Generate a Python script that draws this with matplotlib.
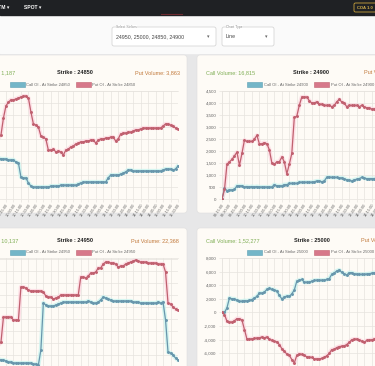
import numpy as np
import pandas as pd
import matplotlib
matplotlib.use('Agg')
import matplotlib.pyplot as plt
from matplotlib.patches import Rectangle, FancyBboxPatch
from matplotlib.ticker import FuncFormatter, MultipleLocator

plt.rcParams['font.family'] = ['Liberation Sans', 'DejaVu Sans']

W, H = 375, 366

# x axis categories (5 minute snapshots)
times = list(pd.date_range('2024-01-01 09:15', periods=76, freq='5min').strftime('%H:%M:%S'))

# strike 24850 (top left)
tl_call = [1710, 1710, 1710, 1710, 1670, 1670, 1670, 1630, 1630, 1630,
           1540, 1500, 920, 880, 880, 670, 540, 500, 500, 500,
           500, 500, 500, 500, 540, 540, 540, 540, 580, 580,
           580, 580, 580, 580, 580, 630, 670, 710, 710, 710,
           710, 710, 710, 710, 710, 710, 710, 880, 1000, 1000,
           1000, 1000, 1040, 1080, 1130, 1210, 1210, 1170, 1170, 1170,
           1170, 1170, 1170, 1170, 1170, 1170, 1170, 1170, 1170, 1210,
           1250, 1250, 1250, 1210, 1250, 1380]
tl_put = [2040, 2250, 2460, 2540, 2670, 3380, 3880, 4040, 4130, 4130,
          4170, 4210, 4250, 4290, 4290, 4210, 3630, 3130, 3080, 3000,
          2630, 2580, 2500, 2040, 2040, 2080, 1960, 2000, 1960, 1830,
          2040, 2080, 2170, 2210, 2290, 2330, 2380, 2380, 2420, 2420,
          2460, 2460, 2330, 2460, 2500, 2500, 2540, 2540, 2580, 2580,
          2420, 2500, 2710, 2750, 2750, 2790, 2790, 2830, 2880, 2880,
          2920, 2960, 2960, 2960, 2960, 2960, 2960, 2960, 2960, 3040,
          3130, 3130, 3080, 3040, 2960, 2920]

# strike 24900 (top right)
tr_call = [0, 450, 350, 380, 380, 400, 550, 550, 550, 500,
           520, 500, 520, 500, 520, 500, 500, 500, 500, 500,
           500, 600, 550, 550, 550, 600, 600, 650, 650, 650,
           650, 700, 700, 700, 700, 700, 700, 720, 750, 750,
           720, 750, 900, 920, 900, 900, 900, 880, 880, 850,
           800, 780, 750, 800, 820, 850, 900, 870, 850, 850,
           850, 850, 870, 880, 860, 850, 840, 860, 880, 900,
           900, 880, 870, 860, 880, 900]
tr_put = [0, 400, 1450, 1550, 1650, 1800, 1950, 1400, 1900, 2450,
          2400, 2400, 2400, 2500, 2650, 2300, 2300, 2350, 2300, 2050,
          1500, 1450, 1550, 1550, 1750, 1550, 1050, 1450, 1900, 3400,
          3450, 3900, 4250, 4250, 4250, 4100, 4000, 4000, 4050, 3950,
          3950, 3900, 3900, 3900, 3850, 3900, 4050, 4150, 4050, 4000,
          3850, 3900, 3900, 3900, 3900, 3850, 3900, 3850, 3800, 3800,
          3750, 3750, 3700, 3700, 3750, 3700, 3650, 3700, 3700, 3650,
          3650, 3700, 3650, 3600, 3650, 3650]

# strike 24950 (bottom left)
bl_call = [1600, 1600, 1600, 1600, 1400, 1400, 1200, 1000, 1000, 800,
           800, 800, 800, 800, 800, 800, 800, 600, 600, 400,
           3400, 12800, 12400, 12200, 12200, 12200, 12400, 12600, 12800, 13000,
           13000, 13000, 13000, 13000, 13000, 13000, 13000, 13000, 13000, 13200,
           13000, 12800, 12800, 13000, 13400, 14000, 13800, 13600, 13400, 13200,
           13200, 13200, 13200, 13200, 13200, 13200, 13200, 13000, 13000, 13000,
           12800, 12800, 12800, 12800, 12800, 12800, 12800, 13000, 12800, 13000,
           9400, 3000, 2800, 2400, 1800, 1400]
bl_put = [4400, 4400, 4400, 4400, 5000, 10000, 10000, 10000, 10000, 9400,
          9400, 9400, 16000, 16000, 15800, 15400, 15200, 15200, 15200, 15200,
          15200, 15000, 14200, 14000, 14000, 13600, 13800, 14000, 14400, 14400,
          14400, 14400, 14400, 14400, 14400, 14400, 18000, 18000, 17800, 18200,
          18800, 18800, 19000, 19800, 19800, 20600, 21000, 21000, 20800, 20800,
          20600, 20000, 20200, 20200, 20600, 20800, 21000, 21200, 21400, 21200,
          21000, 21000, 21000, 20800, 20800, 20800, 20800, 20600, 20600, 20600,
          19000, 12800, 12600, 12000, 11600, 11400]

# strike 25000 (bottom right)
br_call = [0, 0, 700, 2150, 2000, 2000, 1800, 1650, 1650, 1750,
           1700, 1800, 1900, 2150, 2350, 2900, 2850, 3000, 3400, 3550,
           3400, 3300, 3150, 2500, 2000, 2300, 2400, 2350, 2750, 3300,
           4600, 4750, 4850, 4450, 4450, 4450, 4600, 4700, 4750, 4750,
           4750, 4750, 4850, 4950, 5600, 5800, 6100, 6250, 5900, 5700,
           5500, 5850, 5850, 5700, 5650, 5600, 5600, 5600, 5650, 5700,
           5750, 5850, 5800, 5750, 5800, 5850, 5900, 5850, 5800, 5750,
           5800, 5850, 5800, 5750, 5800, 5850]
br_put = [0, -300, -1300, -1400, -1400, -1200, -900, -900, -1100, -2500,
          -3900, -3900, -3850, -3800, -3750, -3700, -3600, -3700, -3600, -3900,
          -4100, -4250, -4300, -4700, -5300, -5700, -6100, -6300, -6900, -7400,
          -6300, -6050, -6150, -6300, -6500, -6550, -6600, -6800, -6800, -6800,
          -6750, -6600, -6350, -6000, -5450, -5400, -5150, -5000, -4950, -4900,
          -4700, -4400, -4000, -3900, -3900, -4000, -4200, -4400, -4100, -4050,
          -4000, -3900, -3850, -3900, -3800, -3850, -3900, -3950, -3900, -3850,
          -3800, -3850, -3900, -3850, -3800, -3750]

CALL_C = '#6896ac'
PUT_C = '#c0606f'
GRID_C = '#e7e3de'
PANEL_C = '#fefbf6'

fig = plt.figure(figsize=(W / 100, H / 100), dpi=100)
fig.patch.set_facecolor('#e7e7e8')

# background / UI layer in pixel coordinates
bg = fig.add_axes([0, 0, 1, 1])
bg.set_xlim(0, W)
bg.set_ylim(H, 0)
bg.axis('off')

bg.add_patch(Rectangle((0, 15), W, 38, color='#fafafa', zorder=0))
bg.add_patch(Rectangle((0, 0), W, 15, color='#1f2124', zorder=1))
bg.text(-5, 7.5, 'ATM \u25be', color='white', fontsize=3.6, fontweight='bold', va='center')
bg.text(24, 7.5, 'SPOT \u25be', color='white', fontsize=3.6, fontweight='bold', va='center')
bg.plot([161, 182], [14.3, 14.3], color='#6e2a30', lw=0.8, zorder=2)
bg.add_patch(FancyBboxPatch((354, 3), 25, 9, boxstyle='round,pad=0,rounding_size=1.5',
                            fc='none', ec='#c9a23c', lw=0.6, zorder=2))
bg.text(357, 7.7, 'COA 1.0', color='#d4b04a', fontsize=3, fontweight='bold', va='center')

# dropdowns
for x0, x1, label, value in [(112, 216, 'Select Strikes', '24950, 25000, 24850, 24900'),
                             (222, 274, 'Chart Type', 'Line')]:
    bg.add_patch(FancyBboxPatch((x0, 27), x1 - x0, 19, boxstyle='round,pad=0,rounding_size=2',
                                fc='white', ec='#cfcfcf', lw=0.5, zorder=2))
    bg.text(x0 + 4, 27, label, fontsize=2.4, color='#888888', va='center', zorder=3,
            bbox=dict(fc='white', ec='none', pad=0.3))
    bg.text(x0 + 4, 37, value, fontsize=3.8, color='#444444', va='center', zorder=3)
    bg.text(x1 - 8, 37, '\u25be', fontsize=3.6, color='#666666', va='center', ha='center', zorder=3)

# panels
for x0, y0, x1, y1 in [(-6, 55, 187, 213), (197, 55, 382, 213),
                       (-6, 228, 187, 372), (197, 228, 382, 372)]:
    bg.add_patch(FancyBboxPatch((x0, y0), x1 - x0, y1 - y0, boxstyle='round,pad=0,rounding_size=3',
                                fc=PANEL_C, ec='#dedede', lw=0.4, zorder=1))


def fmt(v, pos):
    return f'{v:,.0f}'


def draw_chart(plot_x0, top, bottom, call, put, ylim, step, strike, call_vol, put_vol,
               call_x, put_x, put_ha, center_x, head_y, leg_x):
    # header line
    bg.text(call_x, head_y, call_vol, fontsize=4, color='#7fae55', va='center', ha='left')
    bg.text(center_x, head_y, strike, fontsize=4, color='#222222', va='center', ha='center',
            fontweight='bold')
    bg.text(put_x, head_y, put_vol, fontsize=4, color='#c27a3c', va='center', ha=put_ha)

    # legend
    ly = head_y + 11.5
    bx1, tx1, bx2, tx2 = leg_x
    bg.add_patch(Rectangle((bx1, ly - 2.5), 15, 5, fc='#74b6c8', ec='#5c9fb3', lw=0.4, zorder=2))
    bg.text(tx1, ly, 'Call OI - At Strike ' + strike.split(': ')[1], fontsize=3, color='#666666',
            va='center')
    bg.add_patch(Rectangle((bx2, ly - 2.5), 15, 5, fc='#d7788a', ec='#c2606f', lw=0.4, zorder=2))
    bg.text(tx2, ly, 'Put OI - At Strike ' + strike.split(': ')[1], fontsize=3, color='#666666',
            va='center')

    ax = fig.add_axes([plot_x0 / W, 1 - bottom / H, 187 / W, (bottom - top) / H])
    ax.set_facecolor('none')
    x = np.arange(len(times))
    ax.plot(x, call, color='#c8f3ef', lw=3, alpha=0.75, zorder=2, solid_capstyle='round')
    ax.plot(x, put, color='#fdd6e0', lw=3, alpha=0.75, zorder=2, solid_capstyle='round')
    ax.plot(x, call, color=CALL_C, lw=0.9, marker='o', ms=1.1, zorder=4)
    ax.plot(x, put, color=PUT_C, lw=0.9, marker='o', ms=1.1, zorder=5)

    ax.set_xlim(0, len(times) - 1)
    ax.set_ylim(*ylim)
    ax.yaxis.set_major_locator(MultipleLocator(step))
    ax.yaxis.set_major_formatter(FuncFormatter(fmt))
    ax.set_xticks(x[::3])
    ax.set_xticklabels(times[::3])
    for lbl in ax.get_xticklabels():
        lbl.set_rotation(55)
        lbl.set_ha('right')
        lbl.set_rotation_mode('anchor')
    ax.grid(True, color=GRID_C, lw=0.5)
    ax.set_axisbelow(True)
    for s in ax.spines.values():
        s.set_color(GRID_C)
        s.set_linewidth(0.5)
    ax.spines['right'].set_visible(False)
    ax.tick_params(axis='y', length=2, width=0.5, color=GRID_C, labelsize=3.2,
                   labelcolor='#666666', pad=2)
    ax.tick_params(axis='x', length=2, width=0.5, color=GRID_C, labelsize=2.8,
                   labelcolor='#666666', pad=1)
    return ax


left_leg = (10, 26.5, 76, 92.5)
right_leg = (247, 264, 314, 331)

draw_chart(-9, 91, 199, tl_call, tl_put, (0, 4500), 500, 'Strike : 24850',
           'Call Volume: 1,187', 'Put Volume: 3,863', -31, 180, 'right', 75, 73, left_leg)
draw_chart(222, 91, 199, tr_call, tr_put, (0, 4500), 500, 'Strike : 24900',
           'Call Volume: 16,815', 'Put Volume:', 206, 364, 'left', 311, 73, right_leg)
draw_chart(-9, 258, 367, bl_call, bl_put, (0, 21800), 2400, 'Strike : 24950',
           'Call Volume: 10,137', 'Put Volume: 22,368', -31, 179, 'right', 75, 240.5,
           left_leg)
draw_chart(222, 258, 367, br_call, br_put, (-8000, 8000), 2000, 'Strike : 25000',
           'Call Volume: 1,52,277', 'Put Volume:', 206, 361, 'left', 312, 240.5, right_leg)

fig.savefig('out.png', dpi=100, facecolor=fig.get_facecolor())
